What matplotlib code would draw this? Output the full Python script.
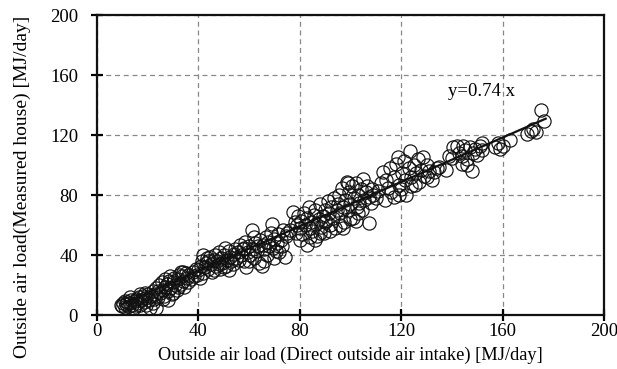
import numpy as np
import matplotlib.pyplot as plt

# points, grouped by x range
x_low = [9.5, 10, 10.5, 11, 11.5, 12, 12.5, 13, 13.5, 14, 14.5, 15, 15.5, 16, 16.5, 17, 17.5, 18, 18.5, 19,
         19.5, 20, 20.5, 13, 15, 17, 19, 11, 21, 23.5, 22]
y_low = [7, 6, 8, 5.5, 7.5, 9, 6, 8, 10, 7, 5, 9.5, 11, 8, 12, 6.5, 10, 13, 9, 11.5,
         7, 14, 10, 12, 6, 14, 15, 9.5, 5, 4.5, 8]

x_a = [21, 22, 22.5, 23, 23.5, 24, 24.5, 25, 25.5, 26, 26.5, 27, 27.5, 28, 28.5, 29, 29.5, 30, 30.5, 31,
       31.5, 32, 32.5, 33, 33.5, 34, 34.5, 35, 35.5, 36, 26, 28, 30, 32, 24, 27, 29, 33, 34, 36,
       37, 38, 38.5, 39, 39.5, 40, 40.5]
y_a = [13, 16, 11, 14, 18, 12, 20, 15, 22, 17, 13, 19, 21, 16, 23, 18, 14, 22, 25, 20,
       17, 24, 27, 21, 26, 23, 19, 28, 25, 22, 11, 10, 15, 19, 16, 24, 26, 29, 29, 27,
       24, 29, 26, 31, 27, 30, 25]

x_b = [41, 41.5, 42, 42.5, 43, 43.5, 44, 44.5, 45, 45.5, 46, 46.5, 47, 47.5, 48, 48.5, 49, 49.5, 50, 50.5,
       51, 51.5, 52, 52.5, 53, 53.5, 54, 54.5, 55, 42, 44, 46, 48, 50, 52]
y_b = [33, 36, 28, 32, 35, 38, 31, 39, 34, 29, 37, 40, 33, 36, 42, 31, 38, 35, 40, 45,
       33, 37, 43, 39, 36, 34, 41, 44, 38, 40, 36, 30, 34, 32, 30]

x_c = [55.5, 56, 56.5, 57, 57.5, 58, 58.5, 59, 59.5, 60, 60.5, 61, 61.5, 62, 62.5, 63, 63.5, 64, 64.5, 65,
       65.5, 66, 66.5, 67, 67.5, 68, 68.5, 69, 69.5, 70, 70.5, 71, 71.5, 72, 72.5, 73, 74, 74.5, 75, 73.5,
       70, 66, 62, 58, 60]
y_c = [42, 37, 47, 40, 44, 36, 49, 32, 42, 46, 40, 56.5, 44, 38, 48, 43, 46, 35, 50, 33,
       47, 44, 52, 40, 49, 46, 55, 60.5, 45, 51, 43, 48, 54, 42, 50, 46, 39, 53, 55, 57,
       38, 36, 52, 45, 36]

x_d = [76, 77.4, 78, 78.5, 79, 79.5, 80, 80.5, 81, 81.5, 82, 82.7, 83, 83.5, 84, 84.5, 85, 85.5, 86, 86.5,
       87, 87.5, 88, 88.5, 89, 89.5, 90, 90.5, 91, 91.5, 92, 92.5, 93, 93.5, 94, 94.5, 95, 84, 86, 88,
       80, 92, 90]
y_d = [57, 69, 62, 55, 60, 66, 58, 63, 54, 68, 60, 46.5, 65, 72, 58, 62, 56, 67, 70, 61,
       53, 64, 74, 59, 66, 55, 70, 63, 76, 68, 60, 72, 65, 78, 58, 70, 74, 52, 50, 55,
       50, 56, 62]

x_e = [95.5, 96, 96.5, 97, 97.5, 98, 98.5, 99, 99.5, 100, 100.5, 101, 101.5, 102, 102.5, 103, 103.5, 104, 104.5, 105,
       105.5, 106, 106.5, 107.5, 107.5, 108, 108.5, 109, 110, 96, 100, 103, 99, 97, 102]
y_e = [80, 68, 85, 72, 62, 77, 89, 70, 82, 74, 86, 65, 78, 88, 72, 80, 75, 84, 70, 91,
       77, 82, 86, 61.5, 79, 75, 84, 80, 78, 60, 64, 68, 88, 58, 63]

x_f = [111, 112, 112.8, 113.6, 114, 115, 115.5, 116, 117, 118, 118.7, 119, 120, 120.5, 121, 121.5, 122, 123, 123.5, 124,
       125, 125.5, 126, 126.5, 127, 128, 128.6, 129, 130, 131, 132, 133, 134, 135, 137.5, 119, 117, 124, 130]
y_f = [83, 88, 95.5, 76.5, 90, 85, 98, 82, 92, 101, 105.5, 87, 84, 95, 103, 90, 80, 98, 109.5, 92,
       100, 87, 95, 104, 89, 97, 105.5, 93, 100, 96, 90, 95.5, 98, 99, 97, 80, 79, 86, 92]

x_g = [139, 140, 140.5, 142, 143, 144, 144.4, 145, 146, 147, 148, 148.5, 149, 150, 151, 151.7, 152, 146, 144]
y_g = [106, 105, 112, 113, 108, 106, 113, 110, 104, 112, 96, 108, 111, 107, 113, 114.5, 110, 100, 101]

x_h = [157, 158, 159, 160, 163, 169.5, 171, 172, 173, 175, 176.5]
y_h = [112, 115, 111, 113, 116.5, 121, 123, 124, 122, 136.5, 129.3]

slope = 0.74
fit_x = [10, 177]

xs = x_low + x_a + x_b + x_c + x_d + x_e + x_f + x_g + x_h
ys = y_low + y_a + y_b + y_c + y_d + y_e + y_f + y_g + y_h

plt.rcParams['font.family'] = ['Liberation Serif', 'DejaVu Serif']

fig = plt.figure(figsize=(6.17, 3.69), dpi=100)
ax = fig.add_axes([0.157, 0.146, 0.822, 0.813])

ax.plot(xs, ys, ls='none', marker='o', markersize=9.5, markerfacecolor='none',
        markeredgecolor='#111111', markeredgewidth=0.85)
fx = np.array(fit_x)
ax.plot(fx, slope * fx, color='#111111', lw=1.6)
ax.text(138.5, 149, 'y=0.74 x', fontsize=13.5, va='center', ha='left')

ax.set_xlim(0, 200)
ax.set_ylim(0, 200)
ax.set_xticks(np.arange(0, 201, 40))
ax.set_yticks(np.arange(0, 201, 40))
ax.grid(True, color='#888888', ls=(0, (4, 3)), lw=0.9)
for s in ax.spines.values():
    s.set_linewidth(1.6)
    s.set_color('#111111')
ax.tick_params(direction='inout', length=9, width=1.6, labelsize=13.5)
ax.tick_params(axis='x', pad=1)
ax.tick_params(axis='y', pad=9)

ax.set_xlabel('Outside air load (Direct outside air intake) [MJ/day]', fontsize=13.2, labelpad=5)
fig.text(22 / 617, 1 - 187 / 369, 'Outside air load(Measured house) [MJ/day]', fontsize=14,
         rotation=90, ha='center', va='center')

fig.savefig('out.png', dpi=100)
